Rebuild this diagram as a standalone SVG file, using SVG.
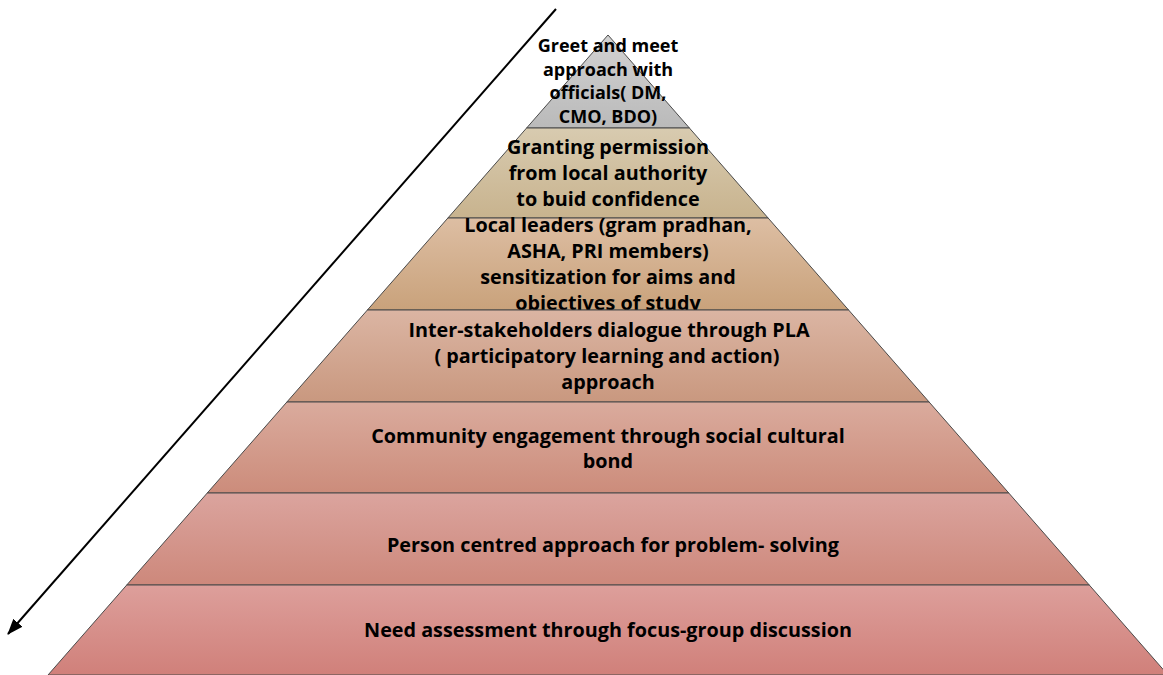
<svg xmlns="http://www.w3.org/2000/svg" width="1163" height="675" viewBox="0 0 1163 675">
<defs>
<linearGradient id="g1" x1="0" y1="0" x2="0" y2="1"><stop offset="0" stop-color="#d2d2d2"/><stop offset="1" stop-color="#bababa"/></linearGradient>
<linearGradient id="g2" x1="0" y1="0" x2="0" y2="1"><stop offset="0" stop-color="#d8cbb0"/><stop offset="1" stop-color="#c8b38e"/></linearGradient>
<linearGradient id="g3" x1="0" y1="0" x2="0" y2="1"><stop offset="0" stop-color="#ddbea3"/><stop offset="1" stop-color="#c9a27b"/></linearGradient>
<linearGradient id="g4" x1="0" y1="0" x2="0" y2="1"><stop offset="0" stop-color="#dbb5a3"/><stop offset="1" stop-color="#c9987f"/></linearGradient>
<linearGradient id="g5" x1="0" y1="0" x2="0" y2="1"><stop offset="0" stop-color="#daab9d"/><stop offset="1" stop-color="#cc8c7b"/></linearGradient>
<linearGradient id="g6" x1="0" y1="0" x2="0" y2="1"><stop offset="0" stop-color="#dba49e"/><stop offset="1" stop-color="#cd887b"/></linearGradient>
<linearGradient id="g7" x1="0" y1="0" x2="0" y2="1"><stop offset="0" stop-color="#dd9f9b"/><stop offset="1" stop-color="#d0807a"/></linearGradient>
<marker id="ah" markerWidth="16" markerHeight="12" refX="15" refY="6" orient="auto" markerUnits="userSpaceOnUse" viewBox="0 0 16 12">
<path d="M0,0 L16,6 L0,12 Z" fill="#000"/>
</marker>
</defs>
<style>
.layer{stroke:#4a4a4a;stroke-width:1}
.t{font-family:"Open Sans","Liberation Sans",Arial,sans-serif;font-weight:bold;font-size:19.8px;fill:#000;text-anchor:middle}
.s{font-size:18px}
</style>
<rect width="1163" height="675" fill="#fff"/>
<g id="layer1">
<polygon class="layer" fill="url(#g1)" points="608,35 689.4,128 526.6,128"/>
<text class="t s" x="608" y="52">Greet and meet</text>
<text class="t s" x="608" y="76">approach with</text>
<text class="t s" x="608" y="99">officials( DM,</text>
<text class="t s" x="608" y="123">CMO, BDO)</text>
</g>
<g id="layer2">
<polygon class="layer" fill="url(#g2)" points="526.6,128 689.4,128 768.1,218 447.9,218"/>
<text class="t" x="608" y="154">Granting permission</text>
<text class="t" x="608" y="180">from local authority</text>
<text class="t" x="608" y="206">to buid confidence</text>
</g>
<g id="layer3">
<polygon class="layer" fill="url(#g3)" points="447.9,218 768.1,218 848.6,310 367.4,310"/>
<text class="t" x="608" y="232">Local leaders (gram pradhan,</text>
<text class="t" x="608" y="258">ASHA, PRI members)</text>
<text class="t" x="608" y="284">sensitization for aims and</text>
<text class="t" x="608" y="310">objectives of study</text>
</g>
<g id="layer4">
<polygon class="layer" fill="url(#g4)" points="367.4,310 848.6,310 929.1,402 286.9,402"/>
<text class="t" x="609" y="337">Inter-stakeholders dialogue through PLA</text>
<text class="t" x="607" y="363">( participatory learning and action)</text>
<text class="t" x="608" y="389">approach</text>
</g>
<g id="layer5">
<polygon class="layer" fill="url(#g5)" points="286.9,402 929.1,402 1008.75,493 207.25,493"/>
<text class="t" x="608" y="443">Community engagement through social cultural</text>
<text class="t" x="608" y="468">bond</text>
</g>
<g id="layer6">
<polygon class="layer" fill="url(#g6)" points="207.25,493 1008.75,493 1089.25,585 126.75,585"/>
<text class="t" x="613" y="552">Person centred approach for problem- solving</text>
</g>
<g id="layer7">
<polygon class="layer" fill="url(#g7)" points="126.75,585 1089.25,585 1168,675 48,675"/>
<text class="t" x="608" y="637">Need assessment through focus-group discussion</text>
</g>
<g id="connectors">
<line x1="556" y1="9" x2="8" y2="634" stroke="#000" stroke-width="2" marker-end="url(#ah)"/>
</g>
</svg>
